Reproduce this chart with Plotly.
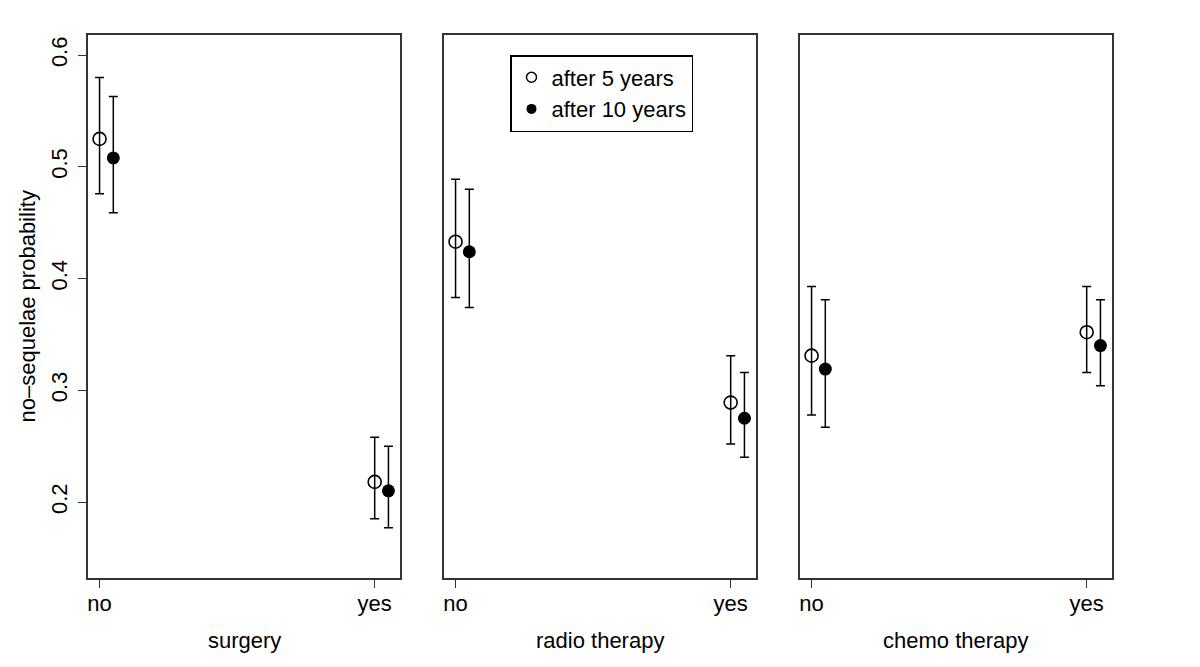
import plotly.graph_objects as go

# categories and panels
levels = ["no", "yes"]
panels = ["surgery", "radio therapy", "chemo therapy"]

# point estimates and interval bounds, one list per panel (no, yes)
p5 = [[0.525, 0.218], [0.433, 0.289], [0.331, 0.352]]
lo5 = [[0.476, 0.185], [0.383, 0.252], [0.278, 0.316]]
hi5 = [[0.580, 0.258], [0.489, 0.331], [0.393, 0.393]]

p10 = [[0.508, 0.210], [0.424, 0.275], [0.319, 0.340]]
lo10 = [[0.459, 0.177], [0.374, 0.240], [0.267, 0.304]]
hi10 = [[0.563, 0.250], [0.480, 0.316], [0.381, 0.381]]

# page body has an 8px margin, so the figure is a bit smaller and offset
PAD = 8
W, H = 1200 - PAD, 667 - PAD
FONT = "Liberation Sans, Arial, Helvetica, sans-serif"
INK = "#000000"
FRAME = "#333333"

# panel boxes in screen pixels (left, right); shared top/bottom
boxes = [(88, 400), (444, 756), (800, 1112)]
top_px, bot_px = 35, 578


def px_x(v):
    return (v - PAD) / W


def px_y(v):
    return (H - (v - PAD)) / H


fig = go.Figure()

for i, name in enumerate(panels):
    n = i + 1
    xa = "x" if n == 1 else f"x{n}"
    ya = "y" if n == 1 else f"y{n}"
    xs = [k + 1 for k in range(len(levels))]
    xs10 = [x + 0.05 for x in xs]

    fig.add_trace(go.Scatter(
        x=xs, y=p5[i], mode="markers", xaxis=xa, yaxis=ya,
        showlegend=False, cliponaxis=False,
        marker=dict(symbol="circle-open", size=13, color=INK,
                    line=dict(width=1.6, color=INK)),
        error_y=dict(type="data", symmetric=False,
                     array=[h - p for h, p in zip(hi5[i], p5[i])],
                     arrayminus=[p - l for p, l in zip(p5[i], lo5[i])],
                     color=INK, thickness=1.5, width=4.5)))
    fig.add_trace(go.Scatter(
        x=xs10, y=p10[i], mode="markers", xaxis=xa, yaxis=ya,
        showlegend=False, cliponaxis=False,
        marker=dict(symbol="circle", size=13, color=INK),
        error_y=dict(type="data", symmetric=False,
                     array=[h - p for h, p in zip(hi10[i], p10[i])],
                     arrayminus=[p - l for p, l in zip(p10[i], lo10[i])],
                     color=INK, thickness=1.5, width=4.5)))

    left, right = boxes[i]
    axis_common = dict(showline=True, mirror=True, linecolor=FRAME,
                       linewidth=1.6, showgrid=False, zeroline=False,
                       ticks="outside", ticklen=8, tickwidth=1.4,
                       tickcolor=FRAME,
                       tickfont=dict(family=FONT, size=22, color=INK))
    fig.update_layout(**{
        ("xaxis" if n == 1 else f"xaxis{n}"): dict(
            domain=[px_x(left), px_x(right)], anchor=ya,
            range=[0.958, 2.092], tickvals=xs, ticktext=levels,
            ticklabelstandoff=-3, **axis_common),
        ("yaxis" if n == 1 else f"yaxis{n}"): dict(
            domain=[px_y(bot_px), px_y(top_px)], anchor=xa,
            range=[0.132, 0.618],
            tickvals=[0.2, 0.3, 0.4, 0.5, 0.6] if n == 1 else [],
            tickangle=-90, ticklabelstandoff=2,
            **axis_common),
    })
    fig.add_annotation(
        text=name, xref="paper", yref="paper",
        x=px_x((left + right) / 2), y=px_y(640),
        xanchor="center", yanchor="middle", showarrow=False,
        font=dict(family=FONT, size=22, color=INK))

fig.add_annotation(
    text="no–sequelae probability", xref="paper", yref="paper",
    x=px_x(27), y=px_y((top_px + bot_px) / 2), textangle=-90,
    xanchor="center", yanchor="middle", showarrow=False,
    font=dict(family=FONT, size=22, color=INK))

# legend-only entries
fig.add_trace(go.Scatter(
    x=[None], y=[None], mode="markers", name="after 5 years",
    marker=dict(symbol="circle-open", size=10, color=INK,
                line=dict(width=1.5, color=INK))))
fig.add_trace(go.Scatter(
    x=[None], y=[None], mode="markers", name="after 10 years",
    marker=dict(symbol="circle", size=10, color=INK)))

fig.update_layout(
    width=W, height=H,
    margin=dict(l=0, r=0, t=0, b=0),
    paper_bgcolor="white", plot_bgcolor="white",
    font=dict(family=FONT, size=22, color=INK),
    showlegend=True,
    legend=dict(x=px_x(510), y=px_y(55), xanchor="left", yanchor="top",
                bgcolor="white", bordercolor=INK, borderwidth=1.5,
                font=dict(family=FONT, size=22, color=INK),
                itemwidth=30, tracegroupgap=0),
)

fig.write_html("out.html")
